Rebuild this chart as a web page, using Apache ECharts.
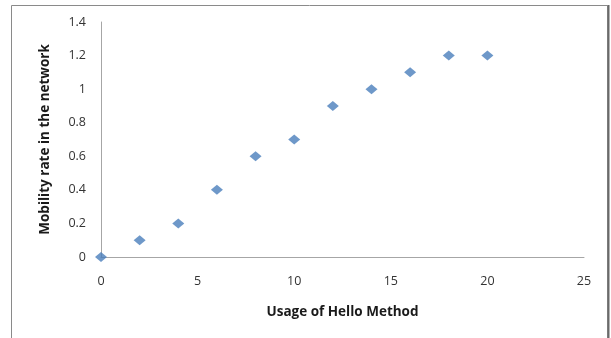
<!DOCTYPE html>
<html><head><meta charset="utf-8">
<script src="https://cdn.jsdelivr.net/npm/echarts@6/dist/echarts.min.js"></script>
<style>html,body{margin:0;padding:0;background:#fff}#c{width:611px;height:338px}</style>
</head><body><div id="c"></div>
<script>
const usage = [0, 2, 4, 6, 8, 10, 12, 14, 16, 18, 20];
const mobility = [0, 0.1, 0.2, 0.4, 0.6, 0.7, 0.9, 1.0, 1.1, 1.2, 1.2];
const xTitle = 'Usage of Hello Method';
const yTitle = 'Mobility rate in the network';

const chart = echarts.init(document.getElementById('c'), null, {renderer: 'canvas'});
const labelStyle = {color: '#333', fontFamily: 'Open Sans, sans-serif', fontSize: 12.5};
const titleStyle = {color: '#1a1a1a', fontFamily: 'Open Sans, sans-serif', fontSize: 13.5, fontWeight: 'bold'};
chart.setOption({
  animation: false,
  graphic: [
    {type: 'rect', shape: {x: 11.5, y: 5.5, width: 596, height: 345}, style: {fill: 'none', stroke: '#8a8a8a', lineWidth: 1}, silent: true},
    {type: 'line', shape: {x1: 608.5, y1: 5, x2: 608.5, y2: 338}, style: {stroke: '#6a6a6a', lineWidth: 2}, silent: true}
  ],
  grid: {left: 101, right: 27, top: 22, bottom: 81, containLabel: false},
  xAxis: {
    type: 'value', min: 0, max: 25, interval: 5,
    axisLine: {show: true, lineStyle: {color: '#a6a6a6', width: 1}},
    axisTick: {show: false},
    splitLine: {show: false},
    axisLabel: Object.assign({margin: 18}, labelStyle),
    name: xTitle, nameLocation: 'middle', nameGap: 48,
    nameTextStyle: titleStyle
  },
  yAxis: {
    type: 'value', min: 0, max: 1.4, interval: 0.2,
    axisLine: {show: true, lineStyle: {color: '#a6a6a6', width: 1}},
    axisTick: {show: false},
    splitLine: {show: false},
    axisLabel: Object.assign({margin: 15, formatter: v => String(Math.round(v * 10) / 10)}, labelStyle),
    name: yTitle, nameLocation: 'middle', nameGap: 49, nameRotate: 90,
    nameTextStyle: titleStyle
  },
  series: [{
    type: 'scatter',
    symbol: 'diamond',
    symbolSize: [12, 10],
    itemStyle: {color: '#4a7ebb'},
    data: usage.map((x, i) => [x, mobility[i]])
  }]
});
</script></body></html>
